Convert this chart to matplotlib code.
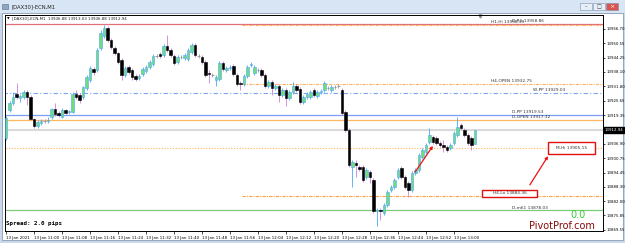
import matplotlib
matplotlib.use("Agg")
import matplotlib.pyplot as plt
from matplotlib.patches import Rectangle

W, H = 625, 243

# --- DATOS (velas M1, 10:52 .. 13:06) ---
symbol = "[DAX30]-ECN,M1"
header_ohlc = "13906.88 13913.03 13906.88 13912.94"
spread_text = "Spread: 2.0 pips"

opens = [13909.4, 13921.6, 13924.6, 13928.5, 13926.8, 13927.2, 13929.4, 13927.2, 13917.7, 13914.6,
         13915.9, 13916.8, 13916.8, 13918.5, 13922.0, 13920.3, 13918.5, 13921.6, 13920.7, 13920.7,
         13928.5, 13928.1, 13927.2, 13931.1, 13934.6, 13939.3, 13938.9, 13948.4, 13953.6, 13957.1,
         13951.9, 13948.4, 13946.3, 13943.2, 13936.7, 13940.2, 13938.9, 13936.3, 13935.4, 13937.2,
         13938.5, 13940.2, 13941.5, 13945.0, 13945.8, 13945.4, 13949.3, 13947.6, 13945.0, 13942.4,
         13944.5, 13944.1, 13943.7, 13946.7, 13949.7, 13945.0, 13944.5, 13942.4, 13937.6, 13936.7,
         13934.6, 13935.0, 13941.9, 13938.9, 13939.8, 13940.6, 13936.7, 13933.3, 13932.8, 13936.3,
         13941.1, 13937.6, 13938.9, 13938.9, 13936.7, 13932.0, 13933.7, 13931.1, 13932.0, 13928.1,
         13930.2, 13926.8, 13929.4, 13932.0, 13930.7, 13925.0, 13927.2, 13927.2, 13930.2, 13927.6,
         13929.4, 13930.2, 13931.1, 13930.2, 13931.5, 13932.0, 13930.2, 13920.7, 13912.9, 13896.9,
         13898.6, 13896.9, 13896.9, 13892.5, 13894.7, 13891.2, 13877.8, 13878.2, 13876.9, 13880.4,
         13886.9, 13888.2, 13892.5, 13896.4, 13892.5, 13889.9, 13886.9, 13894.3, 13895.6, 13901.2,
         13903.4, 13907.7, 13909.9, 13909.4, 13907.3, 13906.4, 13905.5, 13905.1, 13907.3, 13910.7,
         13915.1, 13912.9, 13910.7, 13909.4, 13906.88]
closes = [13918.1, 13924.6, 13927.2, 13927.2, 13927.6, 13929.4, 13927.2, 13917.7, 13914.6, 13916.4,
          13916.8, 13916.8, 13917.2, 13922.0, 13919.8, 13919.4, 13921.6, 13920.3, 13921.1, 13928.5,
          13927.2, 13925.9, 13931.5, 13935.9, 13939.8, 13938.0, 13947.6, 13954.9, 13957.1, 13951.9,
          13948.9, 13946.3, 13942.4, 13936.7, 13939.8, 13938.0, 13935.9, 13935.0, 13936.3, 13939.3,
          13940.2, 13942.4, 13945.0, 13945.0, 13945.0, 13949.3, 13947.6, 13945.4, 13941.9, 13944.5,
          13944.5, 13945.4, 13947.6, 13949.7, 13945.4, 13945.0, 13942.4, 13936.7, 13937.2, 13936.7,
          13935.9, 13941.9, 13939.3, 13939.8, 13940.2, 13937.2, 13932.8, 13932.8, 13936.3, 13940.2,
          13941.5, 13940.2, 13938.9, 13936.7, 13932.0, 13933.7, 13931.1, 13932.0, 13928.1, 13930.2,
          13926.8, 13929.4, 13932.0, 13930.2, 13925.0, 13927.2, 13928.5, 13929.4, 13928.1, 13929.4,
          13929.8, 13933.3, 13931.1, 13931.5, 13931.5, 13932.0, 13920.3, 13912.9, 13897.7, 13899.0,
          13897.7, 13896.0, 13891.2, 13895.6, 13892.5, 13877.8, 13878.2, 13877.8, 13880.4, 13886.0,
          13888.2, 13891.2, 13895.6, 13892.5, 13888.2, 13886.9, 13894.3, 13895.6, 13902.1, 13904.2,
          13906.4, 13910.7, 13907.7, 13907.3, 13906.4, 13905.5, 13904.2, 13906.4, 13911.6, 13914.2,
          13913.8, 13910.7, 13907.3, 13906.4, 13912.94]
highs = [13919.0, 13925.5, 13929.4, 13933.3, 13928.5, 13930.2, 13930.2, 13928.1, 13918.1, 13917.2,
         13917.7, 13917.7, 13918.5, 13922.4, 13924.6, 13921.1, 13922.4, 13922.0, 13921.6, 13929.4,
         13930.2, 13928.9, 13932.0, 13936.7, 13940.6, 13940.2, 13948.4, 13956.2, 13958.4, 13958.0,
         13952.8, 13949.3, 13946.7, 13944.1, 13940.6, 13941.1, 13939.8, 13937.2, 13937.2, 13940.2,
         13941.1, 13943.2, 13945.8, 13945.8, 13946.7, 13950.2, 13954.1, 13948.4, 13945.8, 13945.4,
         13945.4, 13946.3, 13948.4, 13950.6, 13950.6, 13945.8, 13945.4, 13943.2, 13938.9, 13937.6,
         13936.7, 13942.8, 13942.8, 13940.6, 13941.1, 13941.5, 13937.6, 13934.1, 13937.2, 13941.1,
         13942.4, 13941.1, 13939.8, 13939.8, 13937.6, 13934.6, 13934.6, 13932.8, 13932.8, 13931.1,
         13931.1, 13930.2, 13933.7, 13932.8, 13931.5, 13928.1, 13929.4, 13930.2, 13931.1, 13930.2,
         13930.7, 13934.1, 13932.0, 13932.4, 13932.4, 13932.8, 13931.1, 13921.6, 13913.8, 13899.9,
         13899.9, 13897.7, 13897.7, 13896.4, 13895.6, 13892.1, 13879.1, 13879.1, 13881.2, 13886.9,
         13889.1, 13892.1, 13896.4, 13897.3, 13893.4, 13890.8, 13895.1, 13896.4, 13902.9, 13905.1,
         13907.3, 13913.8, 13910.7, 13910.3, 13908.1, 13908.6, 13906.4, 13907.3, 13912.5, 13918.5,
         13915.9, 13913.8, 13911.6, 13910.3, 13913.03]
lows = [13908.6, 13920.7, 13923.7, 13926.3, 13925.0, 13926.3, 13923.7, 13917.2, 13913.8, 13913.8,
        13915.1, 13915.9, 13915.9, 13917.7, 13919.0, 13918.5, 13918.1, 13919.8, 13919.8, 13920.3,
        13926.3, 13924.6, 13926.3, 13930.2, 13933.7, 13936.7, 13938.0, 13947.6, 13952.8, 13951.0,
        13948.0, 13945.4, 13941.5, 13934.6, 13935.9, 13937.2, 13934.6, 13934.1, 13934.6, 13936.3,
        13937.6, 13939.3, 13940.6, 13944.1, 13944.1, 13944.5, 13946.7, 13944.5, 13941.1, 13941.5,
        13943.7, 13943.2, 13942.8, 13945.8, 13944.5, 13944.1, 13941.5, 13935.9, 13933.3, 13935.9,
        13932.0, 13934.1, 13938.5, 13938.0, 13938.9, 13936.3, 13932.0, 13930.2, 13932.0, 13935.4,
        13940.2, 13936.7, 13938.0, 13935.9, 13931.1, 13931.1, 13928.1, 13930.2, 13925.0, 13927.2,
        13923.3, 13925.9, 13928.5, 13929.4, 13924.2, 13924.2, 13926.3, 13926.3, 13927.2, 13926.8,
        13928.5, 13929.4, 13930.2, 13929.4, 13930.7, 13931.1, 13919.4, 13912.0, 13896.9, 13888.2,
        13892.5, 13895.1, 13890.4, 13891.7, 13889.9, 13876.9, 13871.3, 13873.9, 13876.0, 13879.5,
        13886.0, 13887.3, 13891.7, 13891.7, 13887.3, 13883.9, 13886.0, 13893.4, 13894.7, 13900.3,
        13902.5, 13906.8, 13906.8, 13906.4, 13905.5, 13903.4, 13903.4, 13904.2, 13906.4, 13909.9,
        13912.9, 13909.9, 13906.4, 13904.2, 13906.88]
bid = 13912.94

time_labels = ["13 Jan 2021", "13 Jan 11:00", "13 Jan 11:08", "13 Jan 11:16", "13 Jan 11:24",
               "13 Jan 11:32", "13 Jan 11:40", "13 Jan 11:48", "13 Jan 11:56", "13 Jan 12:04",
               "13 Jan 12:12", "13 Jan 12:20", "13 Jan 12:28", "13 Jan 12:36", "13 Jan 12:44",
               "13 Jan 12:52", "13 Jan 13:00"]
time_label_bars = [0, 8, 16, 24, 32, 40, 48, 56, 64, 72, 80, 88, 96, 104, 112, 120, 128]
price_ticks = [13869.55, 13875.85, 13882.00, 13888.30, 13894.45, 13900.75, 13906.90,
               13919.35, 13925.65, 13931.80, 13938.10, 13944.25, 13950.55, 13956.70]

# niveles pivot
level_names = ["D-R1", "H1-Hi", "H4-OPEN", "W-PP", "D-PP", "D-OPEN", "M-Hi", "H4-Lo", "D-m61"]
level_prices = [13958.86, 13958.39, 13932.75, 13929.03, 13919.53, 13917.32, 13905.15, 13884.36, 13878.03]

# estilo de cada nivel: color, linea, ancho, barra inicial, barra de la etiqueta
level_style = {
    "D-R1":    ("#e0707a", "-", 0.9, -1, 144.6),
    "H1-Hi":   ("#ffb060", (0, (3, 1, 1, 1)), 0.8, 67.5, 138.6),
    "H4-OPEN": ("#ffb060", (0, (3, 1, 1, 1)), 0.8, 67.5, 138.6),
    "W-PP":    ("#7fa4f0", (0, (4, 2, 1, 2)), 0.8, -1, 150.6),
    "D-PP":    ("#7a9ef5", "-", 0.9, -1, 144.6),
    "D-OPEN":  ("#ffb860", "-", 0.9, -1, 144.6),
    "M-Hi":    ("#ffb060", (0, (1, 1.5)), 0.8, -1, None),
    "H4-Lo":   ("#ffa040", (0, (3, 1, 1, 1)), 0.8, 67.5, None),
    "D-m61":   ("#7ccc7c", "-", 0.9, -1, 144.6),
}

# flechas rojas (barra, precio)
arrow1 = ((116.9, 13894.7), (122.0, 13906.0))
arrow2 = ((149.7, 13889.1), (154.9, 13901.6))


def fx(px):
    return px / W


def fy(py):
    return 1 - py / H


fig = plt.figure(figsize=(W / 100, H / 100), dpi=100)
fig.patch.set_facecolor("#c9d9ec")

# --- VENTANA (detras de los ejes) ---
fig.add_artist(Rectangle((0, fy(13)), 1, 13 / H, transform=fig.transFigure,
                         facecolor="#d8e5f4", edgecolor="none", zorder=-5))
fig.add_artist(Rectangle((fx(2), fy(240)), fx(621), 227 / H, transform=fig.transFigure,
                         facecolor="white", edgecolor="#8a9bb0", lw=0.6, zorder=-4))
fig.add_artist(Rectangle((fx(2), fy(9)), fx(6), 5 / H, transform=fig.transFigure,
                         facecolor="#8fa6c4", edgecolor="#5a6e8a", lw=0.4, zorder=-3))
fig.text(fx(12), fy(7), symbol, fontsize=3.8, va="center", ha="left", color="#222222")
for x0, col in [(580, "#e6eef8"), (593, "#e6eef8"), (606, "#d9534f")]:
    fig.add_artist(Rectangle((fx(x0), fy(10)), fx(12), 7 / H, transform=fig.transFigure,
                             facecolor=col, edgecolor="#7d90aa", lw=0.4, zorder=-3))
fig.text(fx(586), fy(7), "–", fontsize=3.5, ha="center", va="center", color="#333333")
fig.text(fx(599), fy(6.6), "□", fontsize=3.5, ha="center", va="center", color="#333333")
fig.text(fx(612), fy(6.6), "×", fontsize=4.5, ha="center", va="center", color="white")

# --- GRAFICO ---
ax = fig.add_axes([fx(5), fy(231), fx(598), 216 / H])
ax.set_facecolor("white")
ax.set_xlim(-0.3, 170.6)
ax.set_ylim(13869.11, 13962.75)
for s in ax.spines.values():
    s.set_color("black")
    s.set_linewidth(0.7)

# lineas de nivel
for name, price in zip(level_names, level_prices):
    col, ls, lw, start, lab_x = level_style[name]
    ax.hlines(price, start, 171, colors=col, linestyles=ls, linewidth=lw, zorder=1)
    if lab_x is not None:
        ax.text(lab_x, price + 0.4, f"{name} {price:.2f}", fontsize=3.1,
                color="#333333", va="bottom", ha="left", zorder=5)

# linea bid
ax.axhline(bid, color="#d9d9d9", lw=1.5, zorder=0.5)

# velas
for i, (o, c, h, l) in enumerate(zip(opens, closes, highs, lows)):
    if c > o:
        wick, face, edge = "#4ea6ff", "#6fdc7a", "#4ea6ff"
    elif c < o:
        wick, face, edge = "#c882d8", "black", "black"
    else:
        wick, face, edge = "#9a9a9a", "#9a9a9a", "#9a9a9a"
    ax.vlines(i, l, h, colors=wick, linewidth=0.6, zorder=2)
    if c == o:
        ax.hlines(o, i - 0.35, i + 0.35, colors=face, linewidth=0.7, zorder=3)
    else:
        ax.bar(i, c - o, bottom=o, width=0.68, color=face, edgecolor=edge,
               linewidth=0.4, zorder=3)

# flechas
for tail, head in (arrow1, arrow2):
    ax.annotate("", xy=head, xytext=tail,
                arrowprops=dict(arrowstyle="-|>", color="#ee1111", lw=0.9,
                                mutation_scale=4, shrinkA=0, shrinkB=0), zorder=6)

# cajas rojas
ax.add_patch(Rectangle((154.9, 13902.55), 13.4, 5.2, facecolor="white",
                       edgecolor="#e01010", lw=1.0, zorder=6))
ax.text(161.6, level_prices[6], f"M-Hi {level_prices[6]:.2f}", fontsize=3.1,
        ha="center", va="center", color="#333333", zorder=7)
ax.add_patch(Rectangle((136.0, 13883.9), 15.7, 3.1, facecolor="white",
                       edgecolor="#e01010", lw=1.0, zorder=6))
ax.text(143.85, 13885.45, f"H4-Lo {level_prices[7]:.2f}", fontsize=3.1,
        ha="center", va="center", color="#333333", zorder=7)

# encabezado
ax.text(0.004, 0.985, "▼", transform=ax.transAxes, fontsize=2.5, va="center", ha="left")
ax.text(0.011, 0.985, f"{symbol}  {header_ohlc}", transform=ax.transAxes,
        fontsize=2.9, va="center", ha="left", color="#222222")
ax.plot([135.5], [13962.3], marker="v", color="#888888", markersize=2.2, clip_on=False)

# ejes
ax.set_xticks(time_label_bars)
ax.set_xticklabels(time_labels, fontsize=2.9, ha="left")
ax.tick_params(axis="x", length=2.5, width=0.5, pad=1.2, direction="out")
ax.yaxis.tick_right()
ax.set_yticks(price_ticks)
ax.set_yticklabels([f"{p:.2f}" for p in price_ticks], fontsize=2.8)
ax.tick_params(axis="y", length=1.5, width=0.5, pad=0.8)

ax.annotate(f"{bid:.2f}", xy=(1, bid), xycoords=("axes fraction", "data"),
            xytext=(1.4, 0), textcoords="offset points", fontsize=2.8, color="white",
            va="center", ha="left",
            bbox=dict(boxstyle="square,pad=0.2", facecolor="black", edgecolor="black"))

# textos
fig.text(fx(6), fy(223), spread_text, fontsize=4.2, family="DejaVu Sans Mono",
         weight="bold", va="center", ha="left")
fig.text(fx(578), fy(215), "0.0", fontsize=7, color="#33cc33", va="center", ha="center")
fig.text(fx(562), fy(226), "PivotProf.com", fontsize=7, color="#8b0a0a",
         va="center", ha="center")

fig.savefig("out.png", dpi=100, facecolor=fig.get_facecolor())
